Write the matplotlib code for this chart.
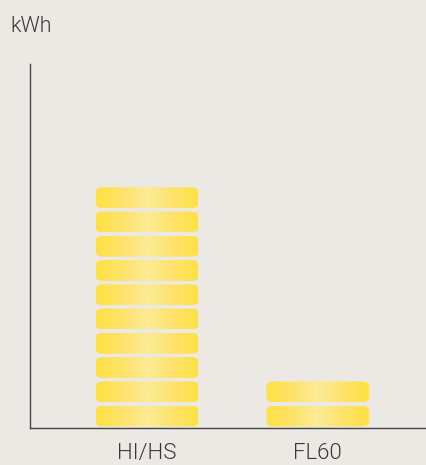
import numpy as np
import matplotlib
matplotlib.use("Agg")
import matplotlib.pyplot as plt
from matplotlib.patches import FancyBboxPatch
from matplotlib.colors import LinearSegmentedColormap

categories = ["HI/HS", "FL60"]
units = [10, 2]
y_label = "kWh"

bg = "#ECE9E4"
fig = plt.figure(figsize=(4.27, 4.65), dpi=100, facecolor=bg)
ax = fig.add_axes([30/427, 37/465, 397/427, 364/465])
ax.set_facecolor(bg)

x = np.arange(len(categories))
ax.set_xlim(-0.686, 1.642)
ax.set_ylim(0, 15)

cmap = LinearSegmentedColormap.from_list(
    "pill", ["#FFE141", "#FDE36A", "#FDEB96", "#FDE36A", "#FFE141"])
grad = np.linspace(0, 1, 256).reshape(1, -1)

bw = 0.6
ph = 0.86
for xi, n in zip(x, units):
    for k in range(n):
        y0 = k + 0.06
        patch = FancyBboxPatch((xi - bw/2, y0), bw, ph,
                               boxstyle="round,pad=0,rounding_size=0.045",
                               mutation_aspect=1/0.043*0.16,
                               facecolor="none", edgecolor="none")
        ax.add_patch(patch)
        im = ax.imshow(grad, cmap=cmap, aspect="auto",
                       extent=(xi - bw/2, xi + bw/2, y0, y0 + ph),
                       interpolation="bicubic", zorder=2)
        im.set_clip_path(patch)

ax.set_xlim(-0.686, 1.642)
ax.set_ylim(0, 15)

for s in ["top", "right"]:
    ax.spines[s].set_visible(False)
for s in ["left", "bottom"]:
    ax.spines[s].set_color("#444444")
    ax.spines[s].set_linewidth(1.0)

font = ["Roboto", "DejaVu Sans"]
ax.set_yticks([])
ax.set_xticks(x)
ax.set_xticklabels(categories, fontsize=16, color="#383838",
                   family=font, fontweight=300)
ax.tick_params(axis="x", length=0, pad=11)

fig.text(10/427, 1 - 32/465, y_label, fontsize=15.5, color="#383838",
         va="baseline", ha="left", family=font, fontweight=300)

fig.savefig("out.png", dpi=100, facecolor=bg)
